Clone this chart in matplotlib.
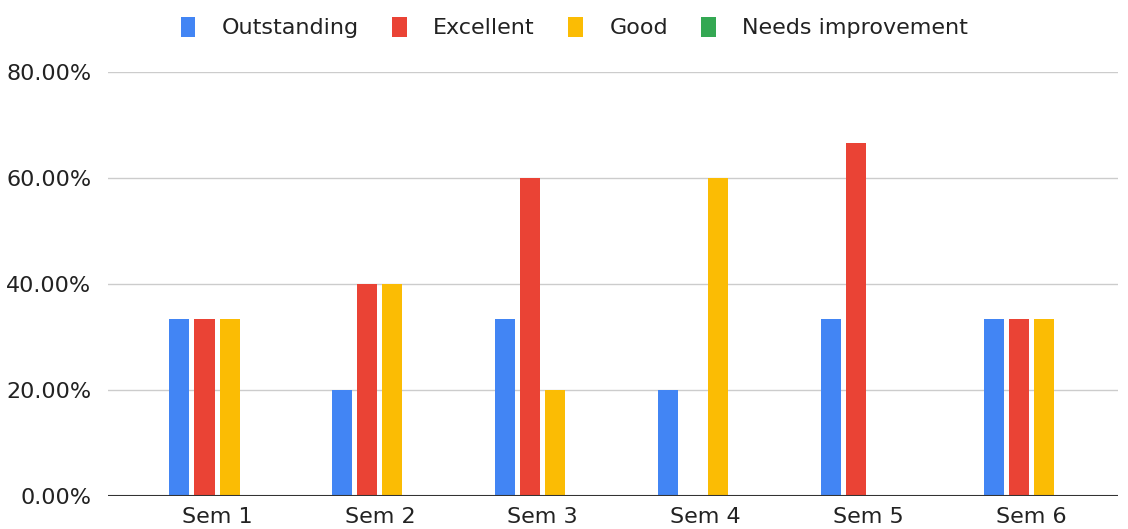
import matplotlib.pyplot as plt
import numpy as np
from matplotlib.ticker import FuncFormatter

plt.rcParams['font.family'] = ['DejaVu Sans']

semesters = ['Sem 1', 'Sem 2', 'Sem 3', 'Sem 4', 'Sem 5', 'Sem 6']
outstanding = [33.33, 20.0, 33.33, 20.0, 33.33, 33.33]
excellent = [33.33, 40.0, 60.0, 0.0, 66.67, 33.33]
good = [33.33, 40.0, 20.0, 60.0, 0.0, 33.33]
needs_improvement = [0.0, 0.0, 0.0, 0.0, 0.0, 0.0]

series = [
    ('Outstanding', outstanding, '#4285F4'),
    ('Excellent', excellent, '#EA4335'),
    ('Good', good, '#FBBC04'),
    ('Needs improvement', needs_improvement, '#34A853'),
]

fig = plt.figure(figsize=(11.28, 5.29), dpi=100)
ax = fig.add_axes([0.0957, 0.0624, 0.895, 0.8015])

x = np.arange(len(semesters))
step = 0.154
width = 0.123
for i, (name, vals, color) in enumerate(series):
    ax.bar(x + (i - 1.5) * step, np.array(vals) / 100, width, color=color,
           label=name, zorder=3)

ax.set_ylim(0, 0.8)
ax.set_xlim(-0.67, 5.53)
ax.set_yticks([0, 0.2, 0.4, 0.6, 0.8])
ax.yaxis.set_major_formatter(FuncFormatter(lambda v, p: f'{v * 100:.2f}%'))
ax.set_xticks(x)
ax.set_xticklabels(semesters)
ax.grid(axis='y', color='#cccccc', lw=1, zorder=0)
ax.axhline(0, color='#333333', lw=1.5, zorder=4)

for s in ax.spines.values():
    s.set_visible(False)
ax.tick_params(axis='both', length=0, labelsize=16, colors='#222222')
ax.tick_params(axis='y', pad=12)
ax.tick_params(axis='x', pad=8)

ax.legend(loc='center', bbox_to_anchor=(0.462, 1.105), ncol=4, frameon=False,
          fontsize=16, handlelength=0.65, handleheight=1.0, columnspacing=1.5,
          handletextpad=1.2, labelcolor='#222222')

fig.savefig('out.png', dpi=100)
